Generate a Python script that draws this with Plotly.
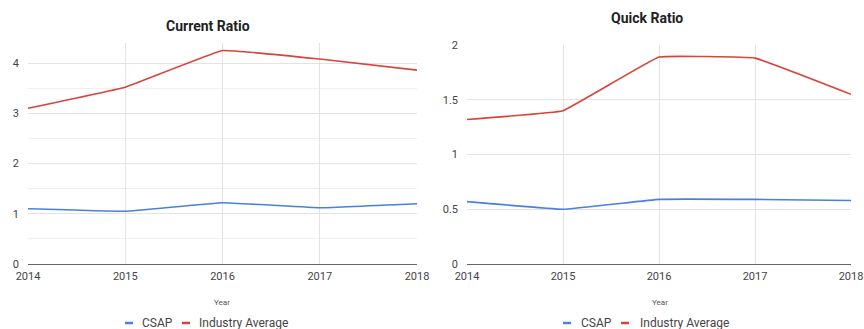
import plotly.graph_objects as go

years = [2014, 2015, 2016, 2017, 2018]
current_csap = [1.10, 1.05, 1.22, 1.12, 1.20]
current_industry = [3.10, 3.52, 4.25, 4.08, 3.86]
quick_csap = [0.57, 0.50, 0.59, 0.59, 0.58]
quick_industry = [1.32, 1.40, 1.89, 1.88, 1.55]
series_names = ["CSAP", "Industry Average"]
titles = ["Current Ratio", "Quick Ratio"]
x_title = "Year"

BLUE = "#4a7fe0"
RED = "#d9443a"
COLORS = [BLUE, RED]
W, H = 864, 329
FONT = "Roboto"

fig = go.Figure()

for vals, name, color in zip([current_csap, current_industry], series_names, COLORS):
    fig.add_trace(go.Scatter(x=years, y=vals, name=name, mode="lines",
                             line=dict(color=color, width=1.6, shape="spline", smoothing=0.2),
                             xaxis="x", yaxis="y", showlegend=False))
for vals, name, color in zip([quick_csap, quick_industry], series_names, COLORS):
    fig.add_trace(go.Scatter(x=years, y=vals, name=name, mode="lines",
                             line=dict(color=color, width=1.6, shape="spline", smoothing=0.2),
                             xaxis="x2", yaxis="y2", showlegend=False))

def px(p):
    return p / W

def py(p):
    return 1 - p / H

grid = "#e3e3e3"
tickfont = dict(family=FONT, size=11, color="#444")
common_x = dict(tickmode="array", tickvals=years, ticktext=[str(y) for y in years],
                showgrid=True, gridcolor=grid, gridwidth=1, zeroline=False,
                showline=False, tickfont=tickfont, ticks="", ticklabelstandoff=4,
                automargin=False)
common_y = dict(showgrid=True, gridcolor=grid, zeroline=True, zerolinecolor="#666",
                zerolinewidth=1, tickfont=tickfont, ticks="", ticklabelstandoff=8,
                automargin=False)

annotations = []
shapes = []
# chart titles
for title, cx, ty in zip(titles, [208, 647], [26, 18]):
    annotations.append(dict(text="<b>%s</b>" % title, x=px(cx), y=py(ty), xref="paper", yref="paper",
                            showarrow=False, font=dict(family=FONT, size=14, color="#222"),
                            xanchor="center", yanchor="middle"))
# x-axis titles
for cx in [222, 660]:
    annotations.append(dict(text=x_title, x=px(cx), y=py(302), xref="paper", yref="paper",
                            showarrow=False, font=dict(family=FONT, size=8, color="#555"),
                            xanchor="center", yanchor="middle"))
# legends (custom short-dash legend like the reference)
legend_layout = [
    [(125, 140), (182, 197)],
    [(563, 579), (621, 638)],
]
for entries in legend_layout:
    for (dx, tx), name, color in zip(entries, series_names, COLORS):
        shapes.append(dict(type="line", xref="paper", yref="paper",
                           x0=px(dx), x1=px(dx + 8), y0=py(323), y1=py(323),
                           line=dict(color=color, width=2.5)))
        annotations.append(dict(text=name, x=px(tx), y=py(323), xref="paper", yref="paper",
                                showarrow=False, font=dict(family=FONT, size=12, color="#444"),
                                xanchor="left", yanchor="middle"))

fig.update_layout(
    width=W, height=H, margin=dict(l=0, r=0, t=0, b=0),
    paper_bgcolor="white", plot_bgcolor="white",
    font=dict(family=FONT),
    xaxis=dict(domain=[px(28), px(417)], range=[2014, 2018], anchor="y", **common_x),
    xaxis2=dict(domain=[px(467), px(851)], range=[2014, 2018], anchor="y2", **common_x),
    yaxis=dict(domain=[py(264), py(43)], range=[0, 4.4], anchor="x",
               tickvals=[0, 1, 2, 3, 4],
               minor=dict(dtick=0.5, tick0=0, showgrid=True, gridcolor="#f0f0f0"),
               **common_y),
    yaxis2=dict(domain=[py(264), py(45)], range=[0, 2], anchor="x2",
                tickvals=[0, 0.5, 1, 1.5, 2], ticktext=["0", "0.5", "1", "1.5", "2"],
                **common_y),
    annotations=annotations,
    shapes=shapes,
    showlegend=False,
)

fig.write_html("out.html")
